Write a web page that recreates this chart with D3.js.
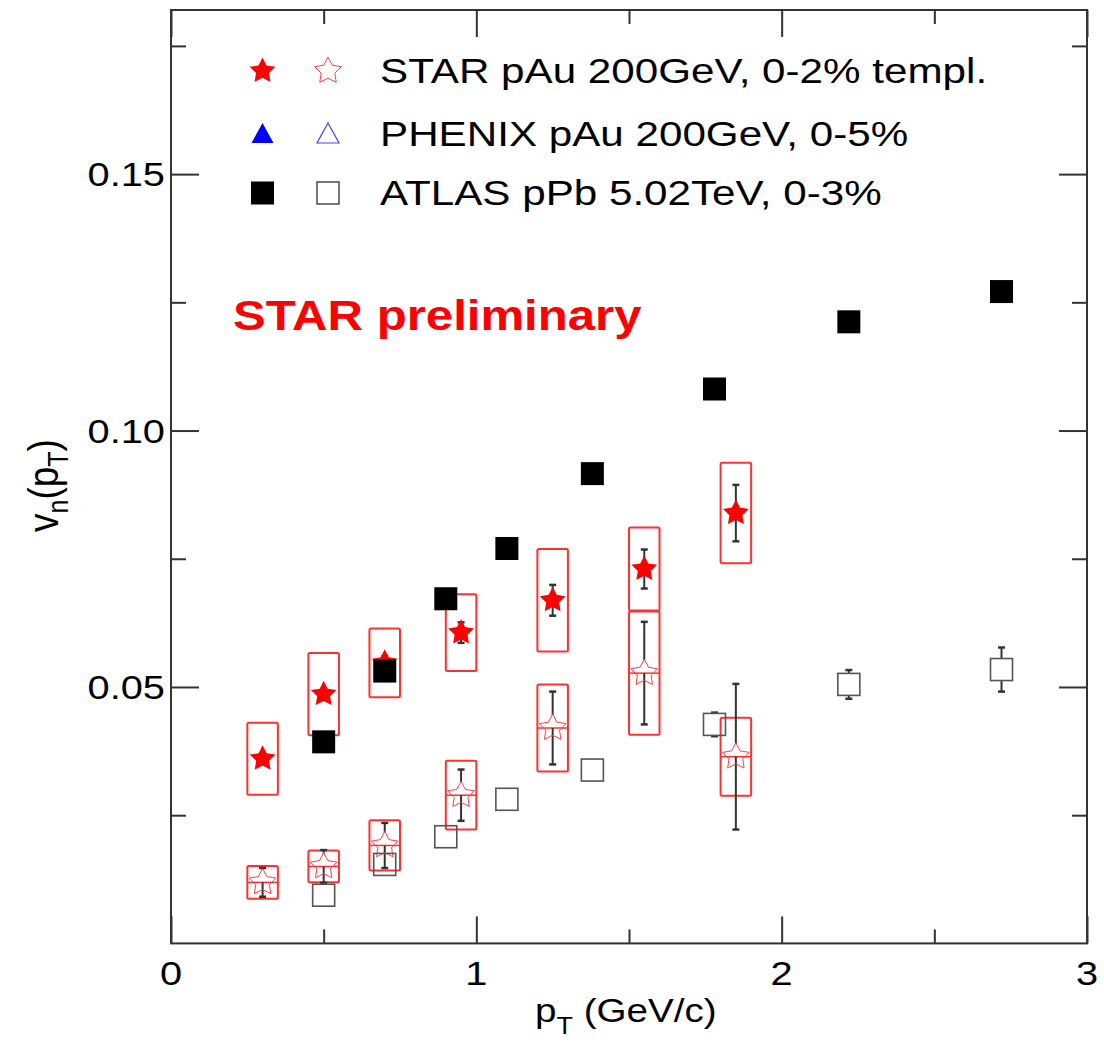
<!DOCTYPE html>
<html><head><meta charset="utf-8">
<script src="https://cdn.jsdelivr.net/npm/d3@7"></script>
<style>
html,body{margin:0;padding:0;background:#fff;}
text{font-family:"Liberation Sans",Arial,Helvetica,sans-serif;}
</style></head>
<body>
<svg id="chart" width="1104" height="1047"></svg>
<script>
// ---------- data ----------
const starPt        = [0.3, 0.5, 0.7, 0.95, 1.25, 1.55, 1.85];
const starFilledV   = [0.0360, 0.0486, 0.0547, 0.0606, 0.0669, 0.0730, 0.0839];
const starFilledStat= [0.0008, 0.0008, 0.0013, 0.0020, 0.0030, 0.0038, 0.0055];
const starFilledSys = [0.0070, 0.0080, 0.0067, 0.0075, 0.0100, 0.0081, 0.0098];
const starOpenV     = [0.0119, 0.0150, 0.0191, 0.0289, 0.0420, 0.0527, 0.0364];
const starOpenStat  = [0.0028, 0.0032, 0.0044, 0.0050, 0.0071, 0.0100, 0.0142];
const starOpenSys   = [0.0032, 0.0031, 0.0049, 0.0067, 0.0085, 0.0120, 0.0076];
const starBoxHalfW  = 0.05;

const atlasPt       = [0.5, 0.7, 0.9, 1.1, 1.38, 1.78, 2.22, 2.72];
const atlasFilledV  = [0.0393, 0.0531, 0.0672, 0.0770, 0.0916, 0.1081, 0.1212, 0.1271];
const atlasOpenV    = [0.0094, 0.0154, 0.0208, 0.0281, 0.0338, 0.0427, 0.0505, 0.0534];
const atlasOpenErr  = [0.0010, 0.0010, 0.0010, 0.0010, 0.0010, 0.0023, 0.0028, 0.0043];

const xMajorTicks = [0, 1, 2, 3];
const xMinorTicks = [0.5, 1.5, 2.5];
const yMajorTicks = [0.05, 0.10, 0.15];
const yMinorTicks = [0.025, 0.075, 0.125, 0.175];
const xTickLabels = ["0", "1", "2", "3"];
const yTickLabels = ["0.05", "0.10", "0.15"];

const legendLabels = ["STAR pAu 200GeV, 0-2% templ.", "PHENIX pAu 200GeV, 0-5%", "ATLAS pPb 5.02TeV, 0-3%"];
const legendColors = ["#ff0000", "#0000ff", "#000000"];
const legendShapes = ["star", "triangle", "square"];

// ---------- layout ----------
const svg = d3.select("#chart");
const L = 171, R = 1087, T = 10, B = 943.4;
const x = d3.scaleLinear().domain([0, 3]).range([L, R]);
const y = d3.scaleLinear().domain([0, 0.182]).range([B, T]);
const SX = 1.17;   // horizontal text stretch
const SXL = 1.205; // legend text stretch
const SQ = 11;     // open square half size (px)

function starPath(Ro, ri) {
  const p = [];
  for (let i = 0; i < 10; i++) {
    const a = -Math.PI / 2 + i * Math.PI / 5;
    const r = i % 2 === 0 ? Ro : ri;
    p.push([r * Math.cos(a), r * Math.sin(a)]);
  }
  return "M" + p.map(d => d[0].toFixed(2) + "," + d[1].toFixed(2)).join("L") + "Z";
}
const starFilled = starPath(13.5, 6.8);
const starOpen = starPath(14, 7.2);
const triPath = "M0,-11L11,9L-11,9Z";

// frame
svg.append("rect").attr("x", L).attr("y", T).attr("width", R - L).attr("height", B - T)
  .attr("fill", "none").attr("stroke", "#333").attr("stroke-width", 2);

// ticks
function ticks(axisFn, scale, vals, size, transform) {
  svg.append("g").attr("transform", transform)
    .call(axisFn(scale).tickValues(vals).tickSize(size).tickFormat(""))
    .call(g => { g.select(".domain").remove(); g.selectAll("line").attr("stroke", "#333").attr("stroke-width", 2); });
}
ticks(d3.axisBottom, x, xMajorTicks, -27, `translate(0,${B})`);
ticks(d3.axisBottom, x, xMinorTicks, -14, `translate(0,${B})`);
ticks(d3.axisTop, x, xMajorTicks, -27, `translate(0,${T})`);
ticks(d3.axisTop, x, xMinorTicks, -14, `translate(0,${T})`);
ticks(d3.axisLeft, y, yMajorTicks, -28, `translate(${L},0)`);
ticks(d3.axisLeft, y, yMinorTicks, -15, `translate(${L},0)`);
ticks(d3.axisRight, y, yMajorTicks, -28, `translate(${R},0)`);
ticks(d3.axisRight, y, yMinorTicks, -15, `translate(${R},0)`);

// tick labels
svg.append("g").selectAll("text").data(xMajorTicks).join("text")
  .attr("transform", d => `translate(${x(d)},985) scale(${SX},1)`)
  .attr("text-anchor", "middle").attr("font-size", 34).attr("fill", "#000")
  .text((d, i) => xTickLabels[i]);
svg.append("g").selectAll("text").data(yMajorTicks).join("text")
  .attr("transform", d => `translate(165,${y(d) + 12}) scale(${SX},1)`)
  .attr("text-anchor", "end").attr("font-size", 34).attr("fill", "#000")
  .text((d, i) => yTickLabels[i]);

// axis titles
const xt = svg.append("text").attr("transform", `translate(535,1022) scale(${SX},1)`)
  .attr("font-size", 33).attr("fill", "#000");
xt.append("tspan").text("p");
xt.append("tspan").attr("font-size", 23).attr("dy", 12).text("T");
xt.append("tspan").attr("dy", -12).text(" (GeV/c)");

const yt = svg.append("text").attr("transform", `translate(58,532) rotate(-90) scale(1,1.15)`)
  .attr("font-size", 37).attr("fill", "#000");
yt.append("tspan").text("v");
yt.append("tspan").attr("font-size", 25).attr("dy", 9).text("n");
yt.append("tspan").attr("dy", -9).text("(p");
yt.append("tspan").attr("font-size", 25).attr("dy", 9).text("T");
yt.append("tspan").attr("dy", -9).text(")");

// STAR preliminary
svg.append("text").attr("transform", `translate(233,330) scale(${SX},1)`)
  .attr("font-size", 42).attr("font-weight", "bold").attr("fill", "#ff0000")
  .text("STAR preliminary");

// ---------- data marks ----------
const starFilledData = starPt.map((p, i) => ({p, v: starFilledV[i], stat: starFilledStat[i], sys: starFilledSys[i]}));
const starOpenData = starPt.map((p, i) => ({p, v: starOpenV[i], stat: starOpenStat[i], sys: starOpenSys[i]}));
const atlasFilledData = atlasPt.map((p, i) => ({p, v: atlasFilledV[i]}));
const atlasOpenData = atlasPt.map((p, i) => ({p, v: atlasOpenV[i], err: atlasOpenErr[i]}));

function sysBoxes(data, midLine) {
  const g = svg.append("g").attr("fill", "none").attr("stroke", "#ff3030").attr("stroke-width", 2);
  g.selectAll("rect").data(data).join("rect")
    .attr("x", d => x(d.p - starBoxHalfW)).attr("width", d => x(d.p + starBoxHalfW) - x(d.p - starBoxHalfW))
    .attr("y", d => y(d.v + d.sys)).attr("height", d => y(d.v - d.sys) - y(d.v + d.sys)).attr("rx", 1.5);
  if (midLine) g.selectAll("line").data(data).join("line")
    .attr("x1", d => x(d.p - starBoxHalfW)).attr("x2", d => x(d.p + starBoxHalfW))
    .attr("y1", d => y(d.v)).attr("y2", d => y(d.v)).attr("stroke-width", 1.5);
}
sysBoxes(starFilledData, false);
sysBoxes(starOpenData, true);

function errBars(data, errKey, gapTop, gapBot) {
  const g = svg.append("g").attr("stroke", "#333").attr("stroke-width", 2);
  data.forEach(d => {
    const cx = x(d.p), yt = y(d.v + d[errKey]), yb = y(d.v - d[errKey]), yc = y(d.v);
    if (yb - yc <= gapBot + 0.5) return;
    if (yc - gapTop > yt) g.append("line").attr("x1", cx).attr("x2", cx).attr("y1", yt).attr("y2", yc - gapTop);
    g.append("line").attr("x1", cx).attr("x2", cx).attr("y1", yc + gapBot).attr("y2", yb);
    g.append("line").attr("x1", cx - 3.5).attr("x2", cx + 3.5).attr("y1", yt).attr("y2", yt).attr("stroke-width", 2.5);
    g.append("line").attr("x1", cx - 3.5).attr("x2", cx + 3.5).attr("y1", yb).attr("y2", yb).attr("stroke-width", 2.5);
  });
}
errBars(starOpenData, "stat", 13, 0);
errBars(starFilledData, "stat", 0, 0);
errBars(atlasOpenData, "err", SQ, SQ);

// STAR markers
svg.append("g").selectAll("path").data(starOpenData).join("path")
  .attr("d", starOpen).attr("transform", d => `translate(${x(d.p)},${y(d.v)})`)
  .attr("fill", "none").attr("stroke", "#ff4040").attr("stroke-width", 1);
svg.append("g").selectAll("path").data(starFilledData).join("path")
  .attr("d", starFilled).attr("transform", d => `translate(${x(d.p)},${y(d.v)})`)
  .attr("fill", "#ff0000");

// ATLAS markers
svg.append("g").selectAll("rect").data(atlasOpenData).join("rect")
  .attr("x", d => x(d.p) - SQ).attr("y", d => y(d.v) - SQ).attr("width", 2 * SQ).attr("height", 2 * SQ)
  .attr("fill", "none").attr("stroke", "#555").attr("stroke-width", 1.6);
svg.append("g").selectAll("rect").data(atlasFilledData).join("rect")
  .attr("x", d => x(d.p) - 11.5).attr("y", d => y(d.v) - 11.5).attr("width", 23).attr("height", 23)
  .attr("fill", "#000");

// ---------- legend ----------
const legRows = [71, 134, 193];
const lg = svg.append("g");
legendLabels.forEach((lab, i) => {
  const cy = legRows[i], col = legendColors[i], sh = legendShapes[i];
  const gF = lg.append("g").attr("transform", `translate(262.5,${cy})`);
  const gO = lg.append("g").attr("transform", `translate(328,${cy})`);
  if (sh === "star") {
    gF.append("path").attr("d", starFilled).attr("fill", col);
    gO.append("path").attr("d", starOpen).attr("fill", "none").attr("stroke", "#ff4040").attr("stroke-width", 1);
  } else if (sh === "triangle") {
    gF.append("path").attr("d", triPath).attr("fill", col);
    gO.append("path").attr("d", triPath).attr("fill", "none").attr("stroke", "#4040ff").attr("stroke-width", 1.2);
  } else {
    gF.append("rect").attr("x", -11.5).attr("y", -11.5).attr("width", 23).attr("height", 23).attr("fill", col);
    gO.append("rect").attr("x", -SQ).attr("y", -SQ).attr("width", 2 * SQ).attr("height", 2 * SQ).attr("fill", "none").attr("stroke", "#555").attr("stroke-width", 1.6);
  }
  lg.append("text").attr("transform", `translate(380,${cy + 12}) scale(${SXL},1)`)
    .attr("font-size", 35).attr("fill", "#000").text(lab);
});
</script>
</body></html>
